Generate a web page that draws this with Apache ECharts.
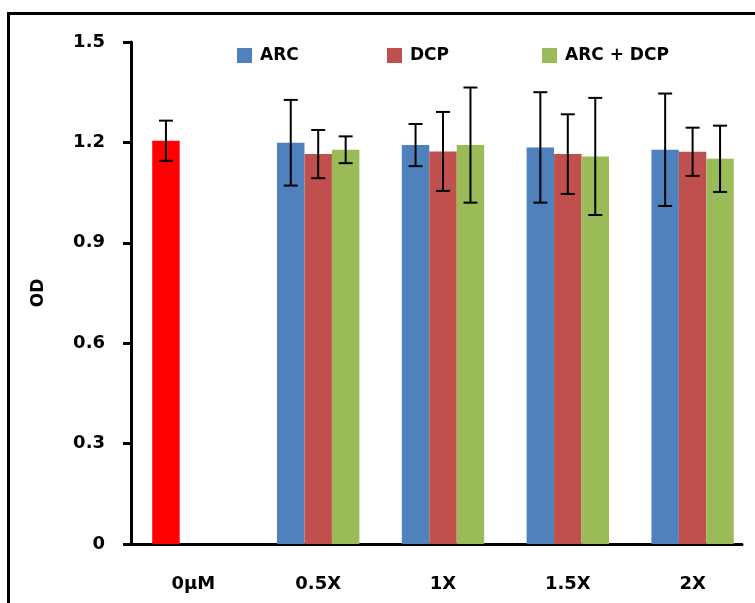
<!DOCTYPE html>
<html>
<head>
<meta charset="utf-8">
<script src="https://cdn.jsdelivr.net/npm/echarts@6/dist/echarts.min.js"></script>
<style>
  html, body { margin: 0; padding: 0; width: 755px; height: 603px; overflow: hidden; background: #fff; }
  #frame { position: absolute; left: 7px; top: 12px; width: 900px; height: 800px; border: 3px solid #000; box-sizing: border-box; }
  #chart { position: absolute; left: 0; top: 0; width: 755px; height: 603px; }
</style>
</head>
<body>
<div id="frame"></div>
<div id="chart"></div>
<script>
const categories = ['0μM', '0.5X', '1X', '1.5X', '2X'];
const seriesNames = ['ARC', 'DCP', 'ARC + DCP'];
const arcMean = [1.205, 1.199, 1.192, 1.185, 1.178];
const arcErr = [0.060, 0.128, 0.063, 0.165, 0.168];
const dcpMean = [null, 1.165, 1.173, 1.165, 1.172];
const dcpErr = [null, 0.072, 0.118, 0.119, 0.072];
const comboMean = [null, 1.178, 1.192, 1.158, 1.151];
const comboErr = [null, 0.040, 0.172, 0.175, 0.099];
const yTicks = [0, 0.3, 0.6, 0.9, 1.2, 1.5];

const colors = ['#4F81BD', '#C0504D', '#9BBB59'];
const controlColor = '#FF0000';
const FONT = 'DejaVu Sans';

const chart = echarts.init(document.getElementById('chart'), null, { renderer: 'canvas' });

const means = [arcMean, dcpMean, comboMean];
const errs = [arcErr, dcpErr, comboErr];
const barFrac = 0.22;

function barData(k) {
  return means[k].map((v, i) => {
    if (v === null) return '-';
    if (k === 0 && i === 0) return { value: v, itemStyle: { color: controlColor } };
    return v;
  });
}

function errRender(k) {
  return function (params, api) {
    const mean = api.value(1);
    const err = api.value(2);
    if (mean === null || isNaN(mean)) return null;
    const cat = api.value(0);
    const band = api.size([1, 0])[0];
    const x = api.coord([cat, mean])[0] + (k - 1) * band * barFrac;
    const yTop = api.coord([cat, mean + err])[1];
    const yBot = api.coord([cat, mean - err])[1];
    const cap = 7;
    const style = { stroke: '#000', lineWidth: 2 };
    return {
      type: 'group',
      children: [
        { type: 'line', shape: { x1: x, y1: yTop, x2: x, y2: yBot }, style },
        { type: 'line', shape: { x1: x - cap, y1: yTop, x2: x + cap, y2: yTop }, style },
        { type: 'line', shape: { x1: x - cap, y1: yBot, x2: x + cap, y2: yBot }, style }
      ]
    };
  };
}

const series = [];
seriesNames.forEach((name, k) => {
  series.push({
    name: name,
    type: 'bar',
    xAxisIndex: 0, yAxisIndex: 0,
    data: barData(k),
    itemStyle: { color: colors[k] },
    barGap: '0%',
    barCategoryGap: '34%',
    emphasis: { disabled: true }
  });
});
seriesNames.forEach((name, k) => {
  series.push({
    type: 'custom',
    name: name + ' err',
    xAxisIndex: 0, yAxisIndex: 0,
    renderItem: errRender(k),
    data: means[k].map((v, i) => [i, v, errs[k][i]]),
    encode: { x: 0, y: 1 },
    z: 5,
    silent: true
  });
});

const legendLefts = [237, 387, 542];
const legends = seriesNames.map((name, k) => ({
  data: [name],
  left: legendLefts[k],
  top: 47,
  padding: 0,
  icon: 'rect',
  itemWidth: 15,
  itemHeight: 15,
  selectedMode: false,
  textStyle: { fontFamily: FONT, fontWeight: 'bold', fontSize: 17, color: '#000', padding: [0, 0, 0, 3] }
}));

chart.setOption({
  animation: false,
  backgroundColor: 'transparent',
  legend: legends,
  grid: [
    { left: 131, top: 42, bottom: 59, width: 625 },
    { left: 131, top: 42, bottom: 59, width: 611 }
  ],
  xAxis: [
    {
      type: 'category',
      gridIndex: 0,
      data: categories,
      axisLine: { show: false },
      axisTick: { show: false },
      axisLabel: { margin: 31, fontFamily: FONT, fontWeight: 'bold', fontSize: 18, color: '#000' }
    },
    {
      type: 'value',
      gridIndex: 1,
      min: 0, max: 1,
      axisLine: { show: true, onZero: false, lineStyle: { color: '#000', width: 3 } },
      axisTick: { show: false },
      axisLabel: { show: false },
      splitLine: { show: false }
    }
  ],
  yAxis: [
    {
      type: 'value',
      gridIndex: 0,
      min: yTicks[0],
      max: yTicks[yTicks.length - 1],
      interval: 0.3,
      name: 'OD',
      nameLocation: 'middle',
      nameRotate: 90,
      nameGap: 84,
      nameTextStyle: { fontFamily: FONT, fontWeight: 'bold', fontSize: 17, color: '#000' },
      axisLine: { show: true, lineStyle: { color: '#000', width: 3 } },
      axisTick: { show: true, inside: false, length: 8, lineStyle: { color: '#000', width: 3 } },
      axisLabel: {
        margin: 26, fontFamily: FONT, fontWeight: 'bold', fontSize: 18, color: '#000',
        formatter: v => (v === 0 ? '0' : v.toFixed(1))
      },
      splitLine: { show: false }
    },
    {
      type: 'value',
      gridIndex: 1,
      show: false,
      min: 0, max: 1
    }
  ],
  series: series
});
</script>
</body>
</html>
